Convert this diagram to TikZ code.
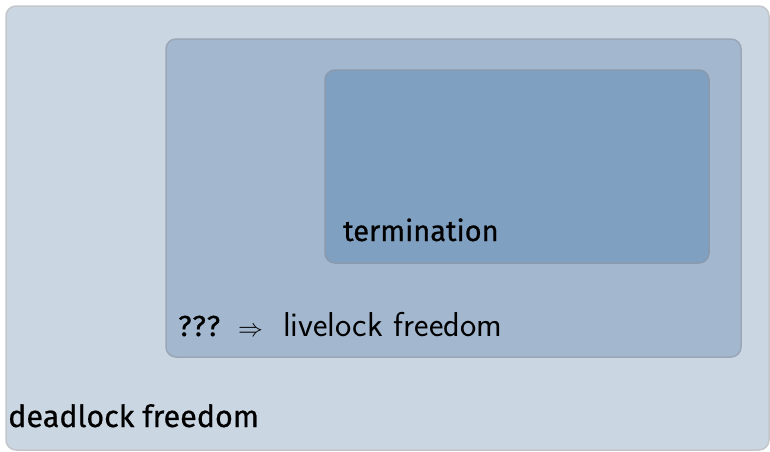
\documentclass[tikz,border=0pt]{standalone}
\usepackage{fontspec}
\newfontfamily\comicf{Fira Sans}[FakeBold=0.6]
\begin{document}
\begin{tikzpicture}[x=1pt,y=-1pt,
  region/.style={rounded corners=10pt,line width=1.5pt},
  lbl/.style={anchor=base west,inner sep=0pt,font=\comicf\fontsize{29}{32}\selectfont}]
\useasboundingbox (0,0) rectangle (770,451);
\definecolor{outerfill}{HTML}{CBD6E3}
\definecolor{outerline}{HTML}{C4C6CA}
\definecolor{midfill}{HTML}{A3B8CF}
\definecolor{midline}{HTML}{9BA6B6}
\definecolor{innfill}{HTML}{7FA0C0}
\definecolor{innline}{HTML}{8A9AAE}
\draw[region,fill=outerfill,draw=outerline] (6,6) rectangle (769,450);
\draw[region,fill=midfill,draw=midline] (166,39) rectangle (741,357);
\draw[region,fill=innfill,draw=innline] (325,70) rectangle (709,263);
\node[lbl,font=\comicf\fontsize{30.5}{33}\selectfont] (dl) at (8,427) {deadlock freedom};
\node[lbl] (tm) at (343,241) {termination};
\node[lbl] (qq) at (178,336) {?\kern1pt?\kern1pt?};
\node[anchor=base west,inner sep=0pt,font=\fontsize{32}{35}\selectfont] (ar) at (238,336) {$\Rightarrow$};
\node[anchor=base west,inner sep=0pt,font=\sffamily\fontsize{34.5}{37}\selectfont] (ll) at (283,336) {livelock freedom};
\end{tikzpicture}
\end{document}
